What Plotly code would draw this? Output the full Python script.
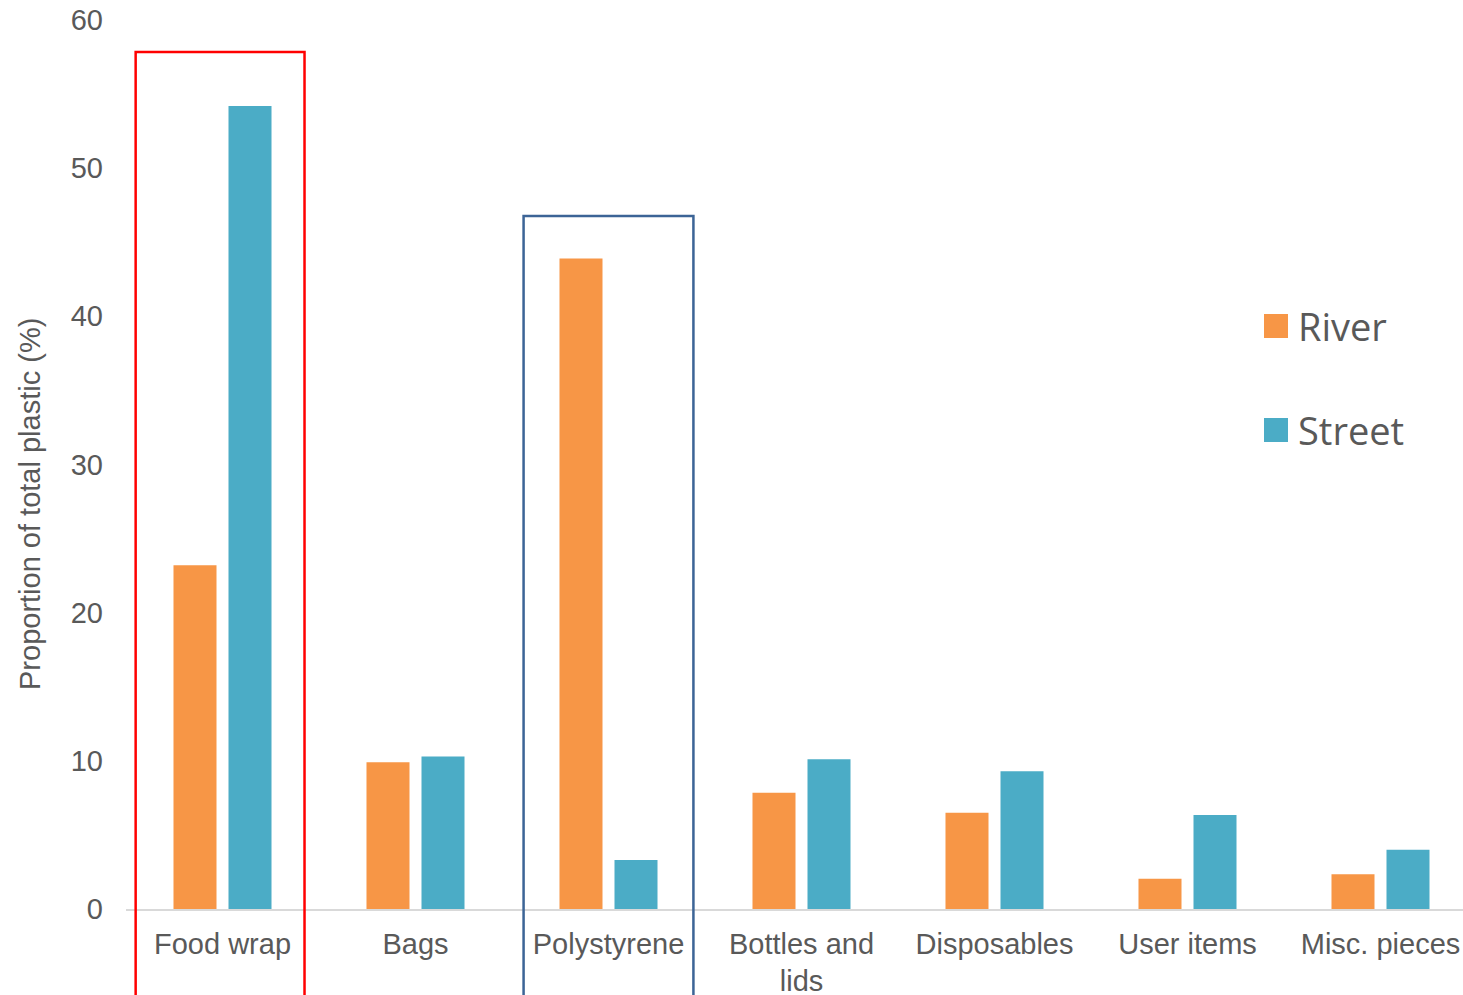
import plotly.graph_objects as go

categories = ["Food wrap", "Bags", "Polystyrene", "Bottles and<br>lids", "Disposables", "User items", "Misc. pieces"]
river = [23.2, 9.9, 43.9, 7.85, 6.5, 2.05, 2.35]
street = [54.2, 10.3, 3.3, 10.1, 9.3, 6.35, 4.0]
y_ticks = [0, 10, 20, 30, 40, 50, 60]
series_names = ["River", "Street"]
colors = ["#F79646", "#4BACC6"]

W, H = 1463, 995
ML, MR, MT, MB = 126, 0, 20, 86
PW, PH = W - ML - MR, H - MT - MB

def px(x):
    return (x - ML) / PW

def py(y):
    return (H - MB - y) / PH

fig = go.Figure()
for name, vals, col in zip(series_names, [river, street], colors):
    fig.add_trace(go.Bar(x=categories, y=vals, name=name, marker=dict(color=col, line=dict(width=0)),
                         showlegend=False))

# highlight boxes
fig.add_shape(type="rect", xref="x", yref="paper", x0=-0.45, x1=0.425, y0=-0.3, y1=py(52),
              line=dict(color="#FF0000", width=2.5), fillcolor="rgba(0,0,0,0)", layer="above")
fig.add_shape(type="rect", xref="x", yref="paper", x0=1.56, x1=2.44, y0=-0.3, y1=py(216),
              line=dict(color="#3C6496", width=2.5), fillcolor="rgba(0,0,0,0)", layer="above")

# custom legend
legend_y = [326, 430]
for name, col, yy in zip(series_names, colors, legend_y):
    fig.add_shape(type="rect", xref="paper", yref="paper", x0=px(1264), x1=px(1288),
                  y0=py(yy + 12), y1=py(yy - 12), line=dict(width=0), fillcolor=col)
    fig.add_annotation(xref="paper", yref="paper", x=px(1296), y=py(yy), text=name, showarrow=False,
                       xanchor="left", yanchor="middle",
                       font=dict(family="Open Sans", size=38, color="#595959"))

fig.add_annotation(xref="paper", yref="paper", x=px(30), y=py(504), text="Proportion of total plastic (%)",
                   textangle=-90, showarrow=False, xanchor="center", yanchor="middle",
                   font=dict(family="Liberation Sans, Arial", size=29, color="#595959"))

fig.update_layout(
    width=W, height=H,
    margin=dict(l=ML, r=MR, t=MT, b=MB),
    plot_bgcolor="white", paper_bgcolor="white",
    barmode="group", bargap=0.43, bargroupgap=0.218,
    font=dict(family="Liberation Sans, Arial", size=29, color="#595959"),
    showlegend=False,
)
fig.update_xaxes(range=[-0.5, -0.5 + PW / 193.0], showgrid=False, showline=True, linecolor="#D9D9D9",
                 linewidth=1.5, ticks="", tickfont=dict(size=29, color="#595959"), ticklabelstandoff=8,
                 ticklabeloverflow="allow", automargin=False, fixedrange=True)
fig.update_yaxes(range=[0, 60], tickvals=y_ticks, showgrid=False, showline=False, zeroline=False,
                 ticks="", ticklabelstandoff=22, ticklabeloverflow="allow", automargin=False,
                 tickfont=dict(size=29, color="#595959"))

fig.write_html("out.html", config={"displayModeBar": False},
               post_script="document.body.style.margin='0';document.body.style.overflow='hidden';")
